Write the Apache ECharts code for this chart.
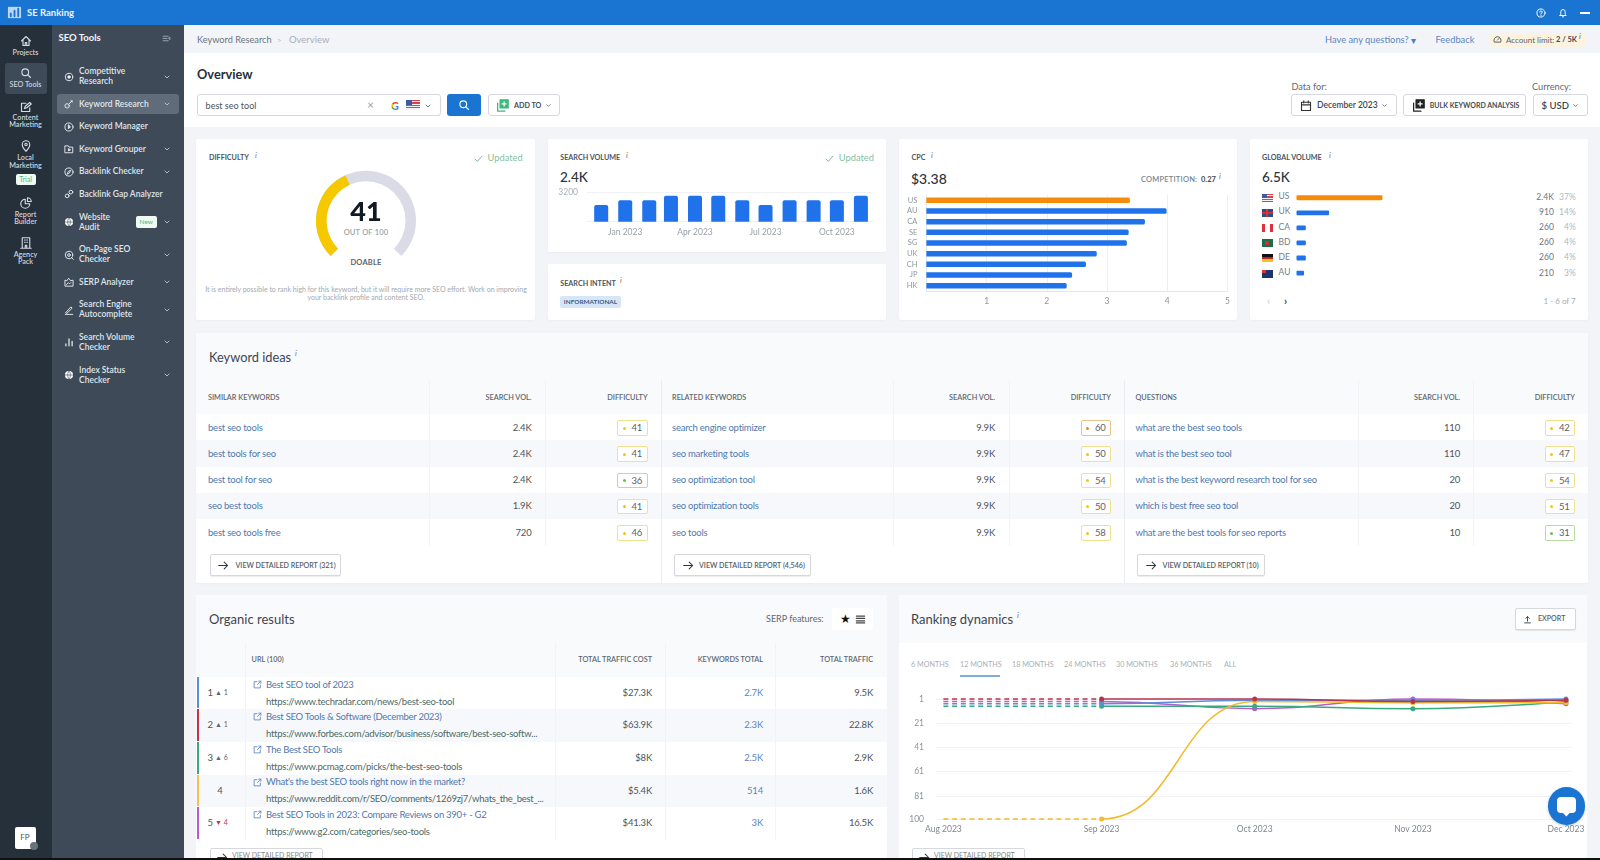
<!DOCTYPE html>
<html><head><meta charset="utf-8"><title>SE Ranking Keyword Research</title>
<script src="https://cdn.jsdelivr.net/npm/echarts@6/dist/echarts.min.js"></script>
<style>
html,body{margin:0;padding:0;width:1600px;height:860px;overflow:hidden;background:#f2f4f8;font-family:Lato,"Noto Sans",sans-serif;color:#3c4650}
#ui{position:absolute;left:0;top:0;width:1600px;height:860px;overflow:hidden}
#chart{position:absolute;left:0;top:0;width:1600px;height:860px;z-index:5}
#top{position:absolute;left:0;top:0;width:1600px;height:860px;z-index:6;pointer-events:none;overflow:hidden}
.t{position:absolute;white-space:nowrap;transform:translateY(-50%);line-height:1.1}
.b{position:absolute;box-sizing:border-box}
svg{position:absolute;overflow:visible}
</style></head><body>
<div id="ui"></div><div id="chart"></div><div id="top"></div>
<script>
// ---------- chart data ----------
const difficultyValue = 41;
const volumeDates = ['2022-12-01','2023-01-01','2023-02-01','2023-03-01','2023-04-01','2023-05-01','2023-06-01','2023-07-01','2023-08-01','2023-09-01','2023-10-01','2023-11-01'];
const volumeValues = [1800,2300,2300,2800,2800,2800,2300,1800,2300,2300,2300,2800];
const volumeTicks = ['2023-01-01','2023-04-01','2023-07-01','2023-10-01'];
const cpcCountries = ['US','AU','CA','SE','SG','UK','CH','JP','HK'];
const cpcValues = [3.38,3.99,3.63,3.36,3.33,2.83,2.65,2.42,2.33];
const globalCountries = ['US','UK','CA','BD','DE','AU'];
const globalValues = [2400,910,260,260,260,210];
const globalLabels = ['2.4K','910','260','260','260','210'];
const globalShares = ['37%','14%','4%','4%','4%','3%'];
const rankDates = ['2023-08-01','2023-09-01','2023-10-01','2023-11-01','2023-12-01'];
const rankTicks = [1,21,41,61,81,100];
const rankPurple = [3,3,9,1,5];
const rankGreen = [7,7,7,9,3];
const rankBlue = [5,5,2,2,1];
const rankYellow = [100,100,3,4,4];
const rankRed = [1,1,1,3,2];
// ---------- table data ----------
const similarKeywords = ['best seo tools','best tools for seo','best tool for seo','seo best tools','best seo tools free'];
const similarVolumes = ['2.4K','2.4K','2.4K','1.9K','720'];
const similarDifficulty = [41,41,36,41,46];
const relatedKeywords = ['search engine optimizer','seo marketing tools','seo optimization tool','seo optimization tools','seo tools'];
const relatedVolumes = ['9.9K','9.9K','9.9K','9.9K','9.9K'];
const relatedDifficulty = [60,50,54,50,58];
const questionKeywords = ['what are the best seo tools','what is the best seo tool','what is the best keyword research tool for seo','which is best free seo tool','what are the best tools for seo reports'];
const questionVolumes = ['110','110','20','20','10'];
const questionDifficulty = [42,47,54,51,31];
const organicTitles = ['Best SEO tool of 2023','Best SEO Tools & Software (December 2023)','The Best SEO Tools',"What's the best SEO tools right now in the market?",'Best SEO Tools in 2023: Compare Reviews on 390+ - G2'];
const organicUrls = ['https://www.techradar.com/news/best-seo-tool','https://www.forbes.com/advisor/business/software/best-seo-softw...','https://www.pcmag.com/picks/the-best-seo-tools','https://www.reddit.com/r/SEO/comments/1269zj7/whats_the_best_...','https://www.g2.com/categories/seo-tools'];
const organicRanks = ['1','2','3','4','5'];
const organicMoves = ['▲ 1','▲ 1','▲ 6','','▼ 4'];
const organicCost = ['$27.3K','$63.9K','$8K','$5.4K','$41.3K'];
const organicKeywords = ['2.7K','2.3K','2.5K','514','3K'];
const organicTraffic = ['9.5K','22.8K','2.9K','1.6K','16.5K'];
const rangeTabs = ['6 MONTHS','12 MONTHS','18 MONTHS','24 MONTHS','30 MONTHS','36 MONTHS','ALL'];

// ---------- page furniture ----------
const ui = document.getElementById('ui'), topL = document.getElementById('top');
function box(x,y,w,h,bg,extra,p){const d=document.createElement('div');d.className='b';d.style.cssText=`left:${x}px;top:${y}px;width:${w}px;height:${h}px;background:${bg};${extra||''}`;(p||ui).appendChild(d);return d;}
function txt(x,y,s,css,right,p){const d=document.createElement('div');d.className='t';d.textContent=s;d.style.cssText=(right?`right:${1600-x}px;`:`left:${x}px;`)+`top:${y}px;`+(css||'');(p||ui).appendChild(d);return d;}
function ctr(x,y,s,css,p){const d=txt(x,y,s,css,false,p);d.style.transform='translate(-50%,-50%)';d.style.textAlign='center';return d;}
function svg(x,y,inner,size,col,p){const s=size||14;const w=document.createElement('div');w.innerHTML=`<svg style="left:${x-s/2}px;top:${y-s/2}px;color:${col||'#fff'}" width="${s}" height="${s}" viewBox="0 0 16 16" fill="none" stroke="${col||'#fff'}" stroke-width="1.5" stroke-linecap="round" stroke-linejoin="round">${inner}</svg>`;(p||ui).appendChild(w.firstChild);}
const ic={
 home:'<path d="M2 8 8 2l6 6M4 7v7h8V7M7 14v-4h2v4"/>',
 search:'<circle cx="7" cy="7" r="4.5"/><path d="M10.5 10.5 14 14"/>',
 edit:'<path d="M13 9v5H2V3h6M6 10l1-3 6-5 2 2-6 5z"/>',
 pin:'<path d="M8 15S3 10 3 6a5 5 0 0 1 10 0c0 4-5 9-5 9z"/><circle cx="8" cy="6" r="1.6"/>',
 pie:'<path d="M7 3a6 6 0 1 0 6 6H7z"/><path d="M10 1v5h5a5 5 0 0 0-5-5z"/>',
 build:'<path d="M3 15V1h10v14M1 15h14M6 4h1M9 4h1M6 7h1M9 7h1M7 15v-4h2v4"/>',
 target:'<circle cx="8" cy="8" r="6"/><circle cx="8" cy="8" r="2" fill="#fff"/>',
 key:'<circle cx="5" cy="11" r="3.5"/><path d="M8 8l5-5M11 3h2v2"/>',
 play:'<circle cx="8" cy="8" r="6.5"/><path d="M7 5v6l3-3z" fill="#fff"/>',
 folder:'<path d="M2 3h5l1 2h6v9H2z"/><path d="M7 8v3l3-1.5z" fill="#fff"/>',
 compass:'<circle cx="8" cy="8" r="6.5"/><path d="M5 11l2-4 4-2-2 4z"/>',
 gap:'<circle cx="5" cy="11" r="3"/><circle cx="11" cy="5" r="3"/><path d="M7 9l2-2"/>',
 globe:'<circle cx="8" cy="8" r="6.5" fill="#fff" stroke="none"/><path d="M1.5 8h13M8 1.5c3 3 3 10 0 13M8 1.5c-3 3-3 10 0 13" stroke="#3e4a58" stroke-width="1"/>',
 mag:'<circle cx="8" cy="8" r="6"/><circle cx="8" cy="8" r="2.2"/><path d="M12 12l3 3"/>',
 serp:'<path d="M1.5 14V5l3 1 3-4 3 4 4-1v9z"/><path d="M4 12l3-3 2 2 2-2"/>',
 auto:'<path d="M3 12 11 3l2 2-8 8zM2 15h12"/>',
 bars:'<path d="M3 14v-3M8 14V3M13 14V7" stroke-width="2"/>',
 chev:'<path d="M4 6l4 4 4-4"/>',
 check:'<path d="M2 9l4 4 8-9"/>',
 arrow:'<path d="M1 8h13M9 3l5 5-5 5"/>',
 collapse:'<path d="M2 4h9M2 8h7M2 12h9M14 6v4l-2-2z"/>',
 cal:'<rect x="2" y="3" width="12" height="11"/><path d="M2 6.5h12M5 1v3M11 1v3"/>',
 add:'<path d="M2 5v10h9"/><rect x="5" y="1" width="10" height="10" fill="currentColor"/><path d="M10 3.500v5M7.500 6h5" stroke="#fff"/>',
 link:'<path d="M7 3H2v11h11V9M8 8l6-6M10 2h4v4"/>',
 up:'<path d="M8 11V3M5 6l3-3 3 3M3 14h10"/>'
};
// frame
box(0,0,1600,25,'#1a75d2');
box(0,25,52,835,'#25303b');
box(52,25,132,835,'#3e4a58');
box(184,25,1416,28,'#f2f4f8');
box(184,53,1416,74,'#ffffff');
// top bar
svg(14,12.5,'<rect x="1" y="2" width="14" height="12" fill="#cfe2f7" stroke="none" opacity=".9"/><path d="M4 12V9M8 12V6M12 12V4" stroke="#1a75d2" stroke-width="2"/>',15);
txt(27,12.5,'SE Ranking','color:#eaf3fc;font-size:9.500px;font-weight:700');
svg(1540.6,12.5,'<circle cx="8" cy="8" r="6.5"/><path d="M6 6.5a2 2 0 1 1 2.5 2L8 10M8 12v.3"/>',10);
svg(1563,12.5,'<path d="M3 12h10l-1.500-2V6a3.500 3.500 0 0 0-7 0v4zM7 14h2"/>',10);
box(1580,12,10,1.5,'#fff');
// breadcrumb
txt(197,39.8,'Keyword Research','color:#6b7580;font-size:9.200px');
txt(277,39.8,'>','color:#b8bec6;font-size:8px');
txt(289,39.8,'Overview','color:#a8afb8;font-size:9.500px');
txt(1325,39.8,'Have any questions?','color:#5a86bf;font-size:9.300px');
txt(1411,39.5,'▾','color:#4a7cc0;font-size:10px');
txt(1435.500,39.8,'Feedback','color:#5a86bf;font-size:9.300px');
box(1488,32.500,99,14,'#fbf3df','border-radius:7px');
svg(1497,39.500,'<path d="M2 12a6.500 6.500 0 1 1 12 0zM8 9l3-3"/>',9,'#3c4650');
txt(1506,39.500,'Account limit:','color:#5b636c;font-size:8px');
txt(1556,39.500,'2 / 5K','color:#3c4650;font-size:7.500px;font-weight:700');
txt(1579,36,'i','color:#666;font-size:8px;font-style:italic');
// rail
[[25.500,41,'home',['Projects'],52.700],[25.500,73,'search',['SEO Tools'],85],[25.500,106.700,'edit',['Content','Marketing'],117.700],[25.500,146,'pin',['Local','Marketing'],158],[25.500,202.700,'pie',['Report','Builder'],214.700],[25.500,243,'build',['Agency','Pack'],254.700]].forEach((r,i)=>{
 if(i===1)box(5,62.700,41.500,31,'#3e4a58','border-radius:3px');
 svg(r[0],r[1],ic[r[2]],12,'#d4dbe3');
 r[3].forEach((l,j)=>ctr(r[0],r[4]+j*7.700,l,'color:#cdd4dc;font-size:7.200px;font-weight:600'));
});
box(15.500,174,20,11,'#eefaf2','border-radius:2px');
ctr(25.500,179.500,'Trial','color:#52b788;font-size:7px');
box(15,826.600,21,22,'#fff','border-radius:2px');
ctr(25,837,'FP','color:#555;font-size:8px');
box(30,842,8,8,'#69727c','border-radius:50%');
// sidebar
txt(58.500,37.700,'SEO Tools','color:#f2f5f8;font-size:9.500px;font-weight:700');
svg(166,38,ic.collapse,9,'#aab2bb');
box(56.500,94,122.500,19.700,'#606c7a','border-radius:3px');
[[['Competitive','Research'],71.700,'target',1],[['Keyword Research'],104.300,'key',1],[['Keyword Manager'],126.700,'play',0],[['Keyword Grouper'],149.300,'folder',1],[['Backlink Checker'],171.700,'compass',1],[['Backlink Gap Analyzer'],194.300,'gap',0],[['Website','Audit'],217,'globe',1],[['On-Page SEO','Checker'],249.700,'mag',1],[['SERP Analyzer'],282,'serp',1],[['Search Engine','Autocomplete'],304.700,'auto',1],[['Search Volume','Checker'],337.400,'bars',1],[['Index Status','Checker'],370,'globe',1]].forEach(r=>{
 const mid=r[1]+(r[0].length-1)*5;
 svg(69,mid,ic[r[2]],10,'#e6ebf0');
 r[0].forEach((l,j)=>txt(79,r[1]+.5+j*10,l,'color:#dfe5ec;font-size:8.500px;font-weight:600'));
 if(r[3])svg(166.700,mid,ic.chev,8,'#d4dbe3');
});
box(136,216,20.700,12,'#eefaf2','border-radius:2px');
ctr(146.300,222,'New','color:#52b788;font-size:6.500px');
// overview header
txt(197,74.300,'Overview','color:#25303b;font-size:12.800px;font-weight:700');
box(197,94.300,244,21.700,'#fff','border:1px solid #d5d9df;border-radius:3px');
txt(205.600,105.800,'best seo tool','color:#4a535c;font-size:9px');
txt(367,105,'×','color:#9aa2ab;font-size:12px');
ctr(395,105.500,'G','font-size:11px;font-weight:900;color:transparent;background:conic-gradient(#ea4335 0 25%,#4285f4 25% 45%,#34a853 45% 70%,#fbbc05 70% 85%,#ea4335 85%);-webkit-background-clip:text;background-clip:text');
function flag(x,y,c,w,h){w=w||10.500;h=h||8;const g={
 US:'linear-gradient(#3c5aa6,#3c5aa6) 0 0/45% 50% no-repeat,repeating-linear-gradient(#d8434f 0 1.2px,#f3f3f3 1.2px 2.4px)',
 UK:'linear-gradient(#d33,#d33) 50% 0/20% 100% no-repeat,linear-gradient(#d33,#d33) 0 50%/100% 20% no-repeat,#2e4b8f',
 CA:'linear-gradient(90deg,#e0313a 0 28%,#fff 28% 72%,#e0313a 72%)',
 BD:'radial-gradient(circle at 45% 50%,#d13030 0 2.200px,#1b6e4a 2.400px)',
 DE:'linear-gradient(#111 0 33%,#cc1f2a 33% 66%,#f5c518 66%)',
 AU:'linear-gradient(#d33,#d33) 0 0/40% 40% no-repeat,#20336b'}[c];
 box(x,y-h/2,w,h,g);}
flag(406,105.300,'US',14,10);
svg(428,105.500,ic.chev,8,'#444');
box(447,94.300,34,21.700,'#1a75d2','border-radius:3px');
svg(464,105.200,ic.search,12,'#fff');
box(488.300,94.300,71.300,21.700,'#fff','border:1px solid #d5d9df;border-radius:3px');
svg(502.700,105,ic.add,13,'#3cb878');
txt(514,105.500,'ADD TO','color:#444c55;font-size:7.200px;font-weight:700');
svg(548,105.500,ic.chev,7,'#444');
txt(1291.400,86.700,'Data for:','color:#5f6972;font-size:9.200px');
txt(1532,86.700,'Currency:','color:#5f6972;font-size:9.200px');
box(1291.400,94.300,105.200,21.700,'#fff','border:1px solid #d5d9df;border-radius:3px');
svg(1306,105.500,ic.cal,12,'#333');
txt(1317,105.800,'December 2023','color:#3c4650;font-size:8.500px;font-weight:600');
svg(1384.700,105.500,ic.chev,7,'#444');
box(1403.300,94.300,122.400,21.700,'#fff','border:1px solid #d5d9df;border-radius:3px');
svg(1418,105.200,ic.add,13,'#222');
txt(1429.700,105.500,'BULK KEYWORD ANALYSIS','color:#444c55;font-size:7px;font-weight:700');
box(1532.500,94.300,55.500,21.700,'#fff','border:1px solid #d5d9df;border-radius:3px');
txt(1541.600,105.500,'$ USD','color:#3c4650;font-size:9.500px;font-weight:600');
svg(1575.700,105.500,ic.chev,7,'#444');
// cards
const cardS='border-radius:2px;box-shadow:0 1px 2px rgba(0,0,0,.03)';
box(196,139,339,181,'#fff',cardS);box(548,139,338,113,'#fff',cardS);box(548,264,338,56,'#fff',cardS);box(899,139,338,181,'#fff',cardS);box(1250,139,338,181,'#fff',cardS);
const hd='color:#4c555e;font-size:7.200px;font-weight:700';
const sup='color:#777;font-size:8px;font-style:italic';
txt(209,158,'DIFFICULTY',hd);txt(255,154.500,'i',sup);
svg(478.600,158,ic.check,9,'#62b08c');txt(487.600,158,'Updated','color:#85bfa3;font-size:9.300px');
ctr(366,232.500,'OUT OF 100','color:#9ba2a9;font-size:7.500px;font-weight:600;letter-spacing:.2px');
ctr(366,263,'DOABLE','color:#5c656e;font-size:7.500px;font-weight:700;letter-spacing:.2px');
ctr(366,290,'It is entirely possible to rank high for this keyword, but it will require more SEO effort. Work on improving','color:#a3a9b0;font-size:7px');
ctr(366,298.300,'your backlink profile and content SEO.','color:#a3a9b0;font-size:7px');
txt(560.300,158,'SEARCH VOLUME',hd);txt(626,154.500,'i',sup);
svg(829.700,158,ic.check,9,'#62b08c');txt(838.800,158,'Updated','color:#85bfa3;font-size:9.300px');
txt(560,177.300,'2.4K','color:#2c343c;font-size:13.500px;font-weight:500');
txt(560.300,283.500,'SEARCH INTENT',hd);txt(620,279.500,'i',sup);
box(560,296,61,12,'#d7e6f6','border-radius:2px');
ctr(590.500,302,'INFORMATIONAL','color:#3a5d85;font-size:6.400px;font-weight:700');
txt(911.500,158,'CPC',hd);txt(931,154.500,'i',sup);
txt(911,179.300,'$3.38','color:#2c343c;font-size:14px;font-weight:500');
txt(1141,179.500,'COMPETITION:','color:#7b838b;font-size:7.500px;font-weight:600;letter-spacing:.2px');
txt(1201,179.500,'0.27','color:#444c55;font-size:7.500px;font-weight:700');txt(1219,176,'i',sup);
txt(1262,158,'GLOBAL VOLUME',hd);txt(1329,154.500,'i',sup);
txt(1262,177.300,'6.5K','color:#2c343c;font-size:13.500px;font-weight:500');
globalCountries.forEach((c,i)=>{const y=197.700+i*15.070;
 flag(1262,y+.5,c);
 txt(1278.600,y-.3,c,'color:#757d85;font-size:8.500px');
 txt(1553.800,y+.5,globalLabels[i],'color:#6e767e;font-size:8.500px',true);
 txt(1575.700,y+.5,globalShares[i],'color:#b2b8be;font-size:8.500px',true);
});
txt(1267,300.700,'‹','color:#c6cbd0;font-size:11px');txt(1284,300.700,'›','color:#444;font-size:11px;font-weight:700');
txt(1575.700,300.700,'1 - 6 of 7','color:#a5abb2;font-size:8px',true);
// keyword ideas
box(196,333,1392,250,'#fff',cardS);
box(196,333,1392,81,'#f9fafc');
txt(209,357,'Keyword ideas','color:#3c4650;font-size:12.800px');txt(295,353,'i',sup);
const rowYs=[414,440.300,466.600,493,519.300];
rowYs.forEach((y,i)=>box(196,y,1392,26.300,i%2?'#f7f8fb':'#fff'));
[429,545,660.500,893,1008.700,1124,1358,1473].forEach((x,i)=>box(x,380,1,i===2||i===5?203:166,i===2||i===5?'#e9ecf0':'#f1f3f6'));
function kwTable(x0,title,vr,dr,ks,vs,ds,btn,bx0,bx1,arr,tx){
 const th='color:#5d666f;font-size:7.300px;font-weight:600';
 txt(x0,397.500,title,th);txt(vr,397.500,'SEARCH VOL.',th,true);txt(dr,397.500,'DIFFICULTY',th,true);
 ks.forEach((k,i)=>{const y=427.700+i*26.250;
  txt(x0,y,k,'color:#4f79ad;font-size:9.500px;letter-spacing:-.23px');
  txt(vr,y,vs[i],'color:#4c555e;font-size:9.500px;letter-spacing:-.2px',true);
  const d=ds[i],c=d>=60?'#e08a1e':d>=40?'#f0c419':'#6cc04a',bc=d>=60?'#e8c58a':d>=40?'#efe28e':'#b7dc9d';
  box(dr-30.500,y-7.700,30.500,15.700,'#fff',`border:1px solid ${bc};border-radius:2px`);
  box(dr-25,y-1.200,3,3,c,'border-radius:50%');
  txt(dr-5.500,y+.3,String(d),'color:#5a636c;font-size:9.500px;letter-spacing:-.2px',true);
 });
 box(bx0,553.700,bx1-bx0,22.300,'#fff','border:1px solid #d5d9df;border-radius:2px;box-shadow:0 1px 1px rgba(0,0,0,.08)');
 svg(arr,565,ic.arrow,11,'#2b333b');
 txt(tx,565.500,btn,'color:#555e67;font-size:7.100px;font-weight:600');
}
kwTable(208,'SIMILAR KEYWORDS',531.500,647.600,similarKeywords,similarVolumes,similarDifficulty,'VIEW DETAILED REPORT (321)',209.600,341,223.500,235.500);
kwTable(672,'RELATED KEYWORDS',995,1111,relatedKeywords,relatedVolumes,relatedDifficulty,'VIEW DETAILED REPORT (4,546)',673.500,811.400,688.600,699);
kwTable(1135.500,'QUESTIONS',1460,1575,questionKeywords,questionVolumes,questionDifficulty,'VIEW DETAILED REPORT (10)',1137.300,1265,1151,1162.600);
// organic results
box(196,595,691,265,'#fff');
box(196,595,691,48,'#f9fafc');box(196,643,691,33.700,'#f9fafc');
txt(209,619.300,'Organic results','color:#3c4650;font-size:13px');
txt(766,619,'SERP features:','color:#5f6972;font-size:9px');
box(832,608,41,22,'#fff','border-radius:2px');
ctr(845,618.500,'★','color:#111;font-size:12px');
svg(860,619,'<path d="M2 3h12M2 6.500h12M2 10h12M2 13h12" stroke-width="1.800"/>',11,'#444');
const th2='color:#5d666f;font-size:7.300px;font-weight:600';
txt(251.600,660,'URL  (100)',th2);
txt(652,660,'TOTAL TRAFFIC COST',th2,true);txt(763,660,'KEYWORDS TOTAL',th2,true);txt(873,660,'TOTAL TRAFFIC',th2,true);
const orgY=[676.700,709,742,774.500,807],orgC=['#5b8dd9','#c4314b','#3aaa7d','#f2c14e','#b65dcb'];
orgY.forEach((y,i)=>{
 box(196,y,691,32.500,i%2?'#f7f8fb':'#fff');
 box(197,y,2,31.500,orgC[i]);
 const c=y+16.300;
 if(organicMoves[i]){txt(207.500,c,organicRanks[i],'color:#4c555e;font-size:9.500px');txt(215,c,organicMoves[i],`color:${organicMoves[i][0]==='▼'?'#c4314b':'#5d666f'};font-size:7px`);}
 else ctr(220,c,organicRanks[i],'color:#4c555e;font-size:9.500px');
 svg(257,c-8.800,ic.link,9,'#5a86bf');
 txt(266,c-8.500,organicTitles[i],'color:#4f79ad;font-size:9.500px;letter-spacing:-.28px');
 txt(266,c+8.500,organicUrls[i],'color:#4c6a66;font-size:9.500px;letter-spacing:-.27px');
 txt(652,c,organicCost[i],'color:#4c555e;font-size:9.500px;letter-spacing:-.2px',true);
 txt(763,c,organicKeywords[i],'color:#5a86bf;font-size:9.500px;letter-spacing:-.2px',true);
 txt(873,c,organicTraffic[i],'color:#4c555e;font-size:9.500px;letter-spacing:-.2px',true);
});
[244.500,555,664.500,775].forEach(x=>box(x,643,1,197,'#f1f3f6'));
box(210,848,113,16,'#fff','border:1px solid #d5d9df;border-radius:2px');
svg(222,857,ic.arrow,11,'#2b333b');txt(232,855.500,'VIEW DETAILED REPORT','color:#888;font-size:7px');
// ranking dynamics
box(899,595,688,265,'#fff');
box(899,595,688,48,'#f9fafc');
txt(911,619,'Ranking dynamics','color:#3c4650;font-size:13px');txt(1017,615,'i',sup);
box(1515,608,60.700,22,'#fff','border:1px solid #d5d9df;border-radius:2px;box-shadow:0 1px 1px rgba(0,0,0,.08)');
svg(1527.700,619,ic.up,9,'#25303b');txt(1538,619,'EXPORT','color:#555e67;font-size:7.100px;font-weight:600');
[911,960,1012,1064,1116,1170,1224].forEach((x,i)=>txt(x,664.500,rangeTabs[i],'color:#aab0b7;font-size:7.200px'));
box(960,675,40,1.500,'#7fb0dd');
box(912,848,113,16,'#fff','border:1px solid #d5d9df;border-radius:2px');
svg(924,857,ic.arrow,11,'#2b333b');txt(934,855.500,'VIEW DETAILED REPORT','color:#888;font-size:7px');
box(0,858,1600,2,'#111');
// chat bubble
box(1547.800,787,37.700,37.700,'#1a75d2','border-radius:50%;box-shadow:0 1px 3px rgba(0,0,0,.2)',topL);
box(1557,796.500,19,16,'#fff','border-radius:4px',topL);
box(1563,810,6,5,'#fff','transform:rotate(45deg)',topL);

// ---------- charts ----------
const ts = s => new Date(s + 'T00:00:00').getTime();
const DAY = 86400000;
const rankAug = ts(rankDates[0]), rankSep = ts(rankDates[1]), rankDec = ts(rankDates[4]);
const rankMin = rankAug - 1.45*DAY, rankMax = rankDec + 1.1*DAY;
const monFmt = new Intl.DateTimeFormat('en-US',{month:'short',year:'numeric'});
const fmtMon = v => monFmt.format(new Date(v));
const rankSeries = [['#b65dcb',rankPurple],['#3aaa7d',rankGreen],['#5b8dd9',rankBlue],['#f0bb2e',rankYellow],['#b5344f',rankRed]];
const lineSeries = [];
rankSeries.forEach(([col,vals])=>{
 lineSeries.push({type:'line',xAxisIndex:3,yAxisIndex:3,data:rankDates.slice(0,2).map((d,i)=>[ts(d),vals[i]]),
  symbol:(v,p)=>p.dataIndex===0?'none':'circle',symbolSize:5,itemStyle:{color:col},
  lineStyle:{color:col,width:1.5,type:[5,3.7]},silent:true,z:3});
 lineSeries.push({type:'line',xAxisIndex:4,yAxisIndex:4,data:rankDates.map((d,i)=>[ts(d),vals[i]]),
  symbol:(v,p)=>p.dataIndex<2?'none':'circle',symbolSize:5,itemStyle:{color:col},
  smooth:0.5,smoothMonotone:'x',clip:true,lineStyle:{color:col,width:1.5},silent:true,z:3});
});
const hide={show:false};
const yRankBase={type:'value',inverse:true,min:-3,max:103};
const option={
 animation:false,backgroundColor:'transparent',
 grid:[
  {left:587,top:192,width:286,height:29.700},
  {left:926.400,top:195,width:301,height:96},
  {left:1296.500,top:190.200,width:179,height:90.400},
  {left:936,top:694.150,width:635.600,height:128.500},
  {left:1101.600,top:694.150,width:470,height:128.500}
 ],
 xAxis:[
  {gridIndex:0,type:'value',min:ts(volumeDates[0])-18.3*DAY,max:ts(volumeDates[11])+15.6*DAY,
   axisLine:{show:true,lineStyle:{color:'#eef0f2'}},axisTick:hide,splitLine:hide,
   axisLabel:{customValues:volumeTicks.map(ts),formatter:v=>fmtMon(v),color:'#9aa1a8',fontSize:8.500,fontFamily:'Lato',margin:6,hideOverlap:false}},
  {gridIndex:1,type:'value',min:0,max:5,interval:1,
   axisLine:{show:true,lineStyle:{color:'#e3e6ea'}},axisTick:hide,
   splitLine:{show:true,lineStyle:{color:'#eceef1'}},
   axisLabel:{showMinLabel:false,color:'#8d949b',fontSize:8.500,fontFamily:'Lato',margin:6}},
  {gridIndex:2,type:'value',min:0,max:5000,show:false},
  {gridIndex:3,type:'value',min:rankMin,max:rankMax,axisLine:hide,axisTick:hide,splitLine:hide,
   axisLabel:{customValues:rankDates.map(ts),formatter:v=>fmtMon(v),color:'#7f878f',fontSize:8.500,fontFamily:'Lato',margin:2.500,hideOverlap:false}},
  {gridIndex:4,type:'value',min:rankSep,max:rankMax,show:false}
 ],
 yAxis:[
  {gridIndex:0,type:'value',min:0,max:3200,interval:3200,axisLine:hide,axisTick:hide,
   splitLine:{show:true,lineStyle:{color:'#f0f1f3'}},
   axisLabel:{showMinLabel:false,formatter:v=>String(v),color:'#aab0b6',fontSize:8.500,fontFamily:'Lato',margin:9}},
  {gridIndex:1,type:'category',inverse:true,data:cpcCountries,
   axisLine:{show:true,lineStyle:{color:'#e3e6ea'}},axisTick:hide,
   axisLabel:{color:'#9097a0',fontSize:7.500,fontFamily:'Lato',margin:9,interval:0}},
  {gridIndex:2,type:'category',inverse:true,data:globalCountries,show:false},
  Object.assign({gridIndex:3},yRankBase,{axisLine:hide,
   axisTick:{show:false,customValues:rankTicks},
   splitLine:{show:true,lineStyle:{color:'#f0f1f4'}},
   axisLabel:{customValues:rankTicks,color:'#8d949b',fontSize:8.500,fontFamily:'Lato',margin:12}}),
  Object.assign({gridIndex:4},yRankBase,{show:false})
 ],
 series:[
  {type:'gauge',center:[366,220.700],radius:50,startAngle:225,endAngle:-45,min:0,max:100,
   axisLine:{roundCap:false,lineStyle:{width:10.500,color:[[1,'#dadbe6']]}},
   progress:{show:true,width:10.500,roundCap:false,itemStyle:{color:'#f5c800'}},
   pointer:hide,axisTick:hide,splitLine:hide,axisLabel:hide,title:hide,
   detail:{valueAnimation:false,offsetCenter:[0,-8],fontSize:27,fontWeight:900,color:'#111a22',fontFamily:'Lato'},
   data:[{value:difficultyValue}],silent:true},
  {type:'bar',xAxisIndex:0,yAxisIndex:0,barWidth:14,data:volumeDates.map((d,i)=>[ts(d),volumeValues[i]]),
   itemStyle:{color:'#1f72ea',borderRadius:[2,2,0,0]},silent:true},
  {type:'bar',xAxisIndex:1,yAxisIndex:1,barWidth:5.500,
   data:cpcValues.map((v,i)=>({value:v,itemStyle:{color:i===0?'#f68b0b':'#1f72ea'}})),
   itemStyle:{borderRadius:[0,1.500,1.500,0]},silent:true},
  {type:'bar',xAxisIndex:2,yAxisIndex:2,barWidth:4.800,
   data:globalValues.map((v,i)=>({value:v,itemStyle:{color:i===0?'#f68b0b':'#1f72ea'}})),
   itemStyle:{borderRadius:1},silent:true}
 ].concat(lineSeries)
};
echarts.init(document.getElementById('chart')).setOption(option);
</script></body></html>
